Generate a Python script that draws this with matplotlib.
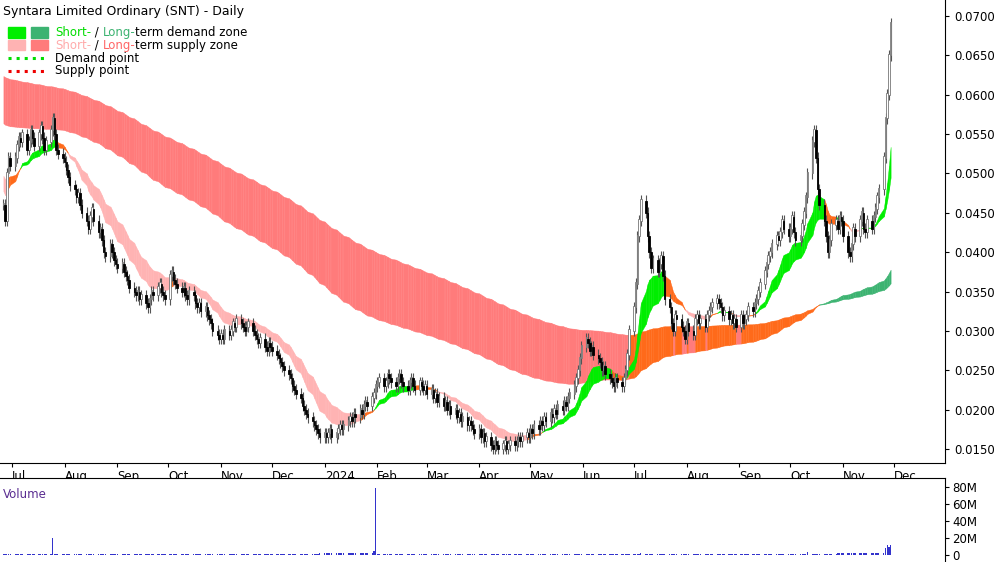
import matplotlib
matplotlib.use("Agg")
import matplotlib.pyplot as plt
import matplotlib.dates as mdates
from matplotlib.patches import Rectangle
import numpy as np
import pandas as pd

# daily closes, units of 0.0001
jun23 = [460, 440, 500, 520, 510]
jul23 = [520, 535, 545, 540, 550, 530, 540, 555, 545, 535, 550, 560, 545, 530, 540, 555, 570, 550, 530, 525, 520]
aug23 = [515, 505, 495, 485, 480, 470, 475, 460, 450, 440, 430, 445, 455, 440, 425, 430, 415, 400, 395, 410, 400, 390, 385]
sep23 = [380, 385, 375, 370, 365, 355, 350, 345, 350, 340, 345, 335, 330, 340, 350, 345, 355, 360, 350, 345, 340]
oct23 = [370, 375, 365, 360, 355, 350, 355, 345, 340, 350, 345, 335, 330, 335, 325, 330, 320, 315, 310, 300, 295, 290]
nov23 = [295, 290, 300, 295, 300, 310, 305, 315, 310, 305, 300, 305, 310, 300, 295, 290, 285, 290, 280, 275, 285, 280]
dec23 = [275, 270, 265, 260, 255, 250, 245, 240, 230, 225, 220, 215, 205, 200, 195, 190, 185, 180, 175, 170]
jan24 = [165, 170, 165, 170, 175, 165, 170, 175, 180, 175, 180, 185, 190, 185, 195, 190, 200, 195, 205, 210, 205, 215]
feb24 = [220, 230, 235, 240, 230, 235, 245, 240, 235, 230, 240, 245, 235, 230, 225, 235, 240, 230, 225, 235, 230]
mar24 = [225, 230, 220, 225, 215, 220, 210, 215, 205, 210, 200, 205, 195, 200, 190, 195, 185, 190, 180, 185]
apr24 = [180, 175, 170, 175, 165, 170, 160, 165, 155, 150, 160, 155, 150, 155, 160, 150, 155, 160, 155, 160, 165, 160]
may24 = [165, 170, 165, 175, 170, 180, 175, 185, 180, 190, 185, 195, 190, 200, 195, 205, 200, 210, 205, 215, 220, 230, 240]
jun24 = [250, 265, 280, 290, 285, 275, 280, 270, 265, 260, 250, 255, 245, 240, 235, 230, 240, 235, 230, 240]
jul24 = [250, 270, 300, 330, 360, 420, 440, 465, 450, 420, 400, 380, 390, 375, 385, 395, 370, 340, 330, 310, 300, 320, 315]
aug24 = [305, 300, 290, 310, 300, 295, 315, 320, 310, 315, 305, 320, 325, 330, 335, 340, 335, 330, 320, 325, 315, 320]
sep24 = [310, 315, 305, 320, 310, 315, 320, 330, 325, 335, 340, 350, 360, 375, 385, 395, 400, 410, 420, 415, 425]
oct24 = [440, 430, 420, 430, 445, 425, 415, 420, 435, 450, 470, 500, 540, 555, 520, 480, 460, 440, 420, 400, 415, 435, 440]
nov24 = [430, 445, 440, 420, 400, 395, 410, 430, 420, 440, 450, 430, 425, 440, 430, 445, 455, 470, 480, 520, 570, 600, 650, 690]

months = [jun23, jul23, aug23, sep23, oct23, nov23, dec23, jan24, feb24, mar24,
          apr24, may24, jun24, jul24, aug24, sep24, oct24, nov24]
# typical daily volume per month (millions)
month_vol = [1.5, 1.4, 1.2, 1.1, 1.1, 1.1, 1.2, 2.5, 1.3, 1.2, 1.2, 1.3, 1.4, 1.6, 1.4, 1.3, 1.6, 2.5]
vol_spikes = {"2023-07-25": 20, "2024-01-31": 78, "2024-01-30": 5, "2024-07-05": 3,
              "2024-10-11": 4, "2024-11-26": 8, "2024-11-27": 12, "2024-11-28": 10, "2024-11-29": 12}

close = np.concatenate(months) / 10000.0
vol_list = np.concatenate([[v] * len(m) for v, m in zip(month_vol, months)])
dates = pd.bdate_range("2023-06-26", periods=len(close))
vol = pd.Series(vol_list, index=dates)
for d, v in vol_spikes.items():
    if pd.Timestamp(d) in vol.index:
        vol[pd.Timestamp(d)] = v

opn = np.r_[close[0], close[:-1]]
hi = np.maximum(opn, close) + 0.0007
lo = np.minimum(opn, close) - 0.0007
x = mdates.date2num(dates)


def ema(s, span, start):
    a = 2.0 / (span + 1)
    out = np.empty(len(s))
    v = start
    for i, p in enumerate(s):
        v = v + a * (p - v)
        out[i] = v
    return out


st_fast = ema(close, 14, 0.048)
st_slow = ema(close, 26, 0.050)
lt_fast = ema(close, 150, 0.0565)
lt_slow = ema(close, 260, 0.0625)

fig = plt.figure(figsize=(10, 5.62), dpi=100)
ax = fig.add_axes([0, 1 - 463 / 562, 0.945, 463 / 562])
axv = fig.add_axes([0, 0, 0.945, 84 / 562])


def draw_zone(a, b, cup, cdown, zorder):
    top = np.maximum(a, b)
    bot = np.minimum(a, b)
    up = a > b
    state = np.where(up & (close > bot), 1, np.where(~up & (close < top), -1, 0))
    cols = {1: cup, -1: cdown, 0: "#ff6a1a"}
    for i in range(len(x) - 1):
        ax.fill_between(x[i:i + 2], bot[i:i + 2], top[i:i + 2], color=cols[state[i]],
                        lw=0.3, ec=cols[state[i]], zorder=zorder)


draw_zone(lt_fast, lt_slow, "#3cb371", "#ff7b7b", 1)
draw_zone(st_fast, st_slow, "#00ee00", "#ffb3b3", 2)

up = close >= opn
ax.vlines(x, lo, hi, color="#555555", lw=0.8, zorder=3)
ax.bar(x[up], (close - opn)[up] + 0.0002, bottom=opn[up], width=0.9,
       color="white", edgecolor="#777777", lw=0.6, zorder=4)
ax.bar(x[~up], (opn - close)[~up], bottom=close[~up], width=0.9,
       color="black", edgecolor="black", lw=0.6, zorder=4)

ax.set_xlim(mdates.datestr2num("2023-06-24"), mdates.datestr2num("2024-12-31"))
ax.set_ylim(0.01322, 0.07203)
ax.yaxis.tick_right()
ax.set_yticks(np.arange(0.015, 0.0701, 0.005))
ax.yaxis.set_major_formatter(plt.FormatStrFormatter("%.4f"))
month_ticks = pd.date_range("2023-07-01", "2024-12-01", freq="MS")
ax.set_xticks(mdates.date2num(month_ticks))
ax.set_xticklabels(["2024" if d.month == 1 else d.strftime("%b") for d in month_ticks], ha="left")
ax.tick_params(axis="both", labelsize=8.5, length=3)
ax.tick_params(axis="x", pad=2)
for sp in ["top", "left"]:
    ax.spines[sp].set_visible(False)

ax.text(0.003, 0.99, "Syntara Limited Ordinary (SNT) - Daily", transform=ax.transAxes,
        fontsize=9, va="top", ha="left")
leg_rows = [(0.93, "#00ee00", "#3cb371", ["Short-", " / ", "Long-", "term demand zone"],
             ["#00dd00", "black", "#3cb371", "black"]),
            (0.902, "#ffb3b3", "#ff7b7b", ["Short-", " / ", "Long-", "term supply zone"],
             ["#ffaaaa", "black", "#ff6666", "black"])]
for yy, c1, c2, parts, pcols in leg_rows:
    ax.add_patch(Rectangle((0.008, yy - 0.011), 0.018, 0.022, transform=ax.transAxes, color=c1))
    ax.add_patch(Rectangle((0.033, yy - 0.011), 0.018, 0.022, transform=ax.transAxes, color=c2))
    t = ax.text(0.058, yy, parts[0], transform=ax.transAxes, fontsize=8.5, va="center", color=pcols[0])
    for p, c in zip(parts[1:], pcols[1:]):
        t = ax.annotate(p, xycoords=t, xy=(1, 0), va="bottom", fontsize=8.5, color=c)
ax.plot([0.008, 0.048], [0.874, 0.874], ":", color="#00dd00", lw=2.2, transform=ax.transAxes)
ax.text(0.058, 0.874, "Demand point", transform=ax.transAxes, fontsize=8.5, va="center")
ax.plot([0.008, 0.048], [0.847, 0.847], ":", color="#ee0000", lw=2.2, transform=ax.transAxes)
ax.text(0.058, 0.847, "Supply point", transform=ax.transAxes, fontsize=8.5, va="center")

axv.bar(x, vol.values, width=0.8, color="#3333cc", lw=0)
axv.set_xlim(ax.get_xlim())
axv.set_ylim(-8, 90)
axv.yaxis.tick_right()
axv.set_yticks([0, 20, 40, 60, 80])
axv.set_yticklabels(["0", "20M", "40M", "60M", "80M"])
axv.set_xticks([])
axv.tick_params(axis="y", labelsize=8.5, length=3, pad=2)
for sp in ["left", "bottom"]:
    axv.spines[sp].set_visible(False)
axv.text(0.003, 0.88, "Volume", transform=axv.transAxes, fontsize=8.5, va="top", color="#5a2d91")

fig.savefig("out.png", dpi=100)
